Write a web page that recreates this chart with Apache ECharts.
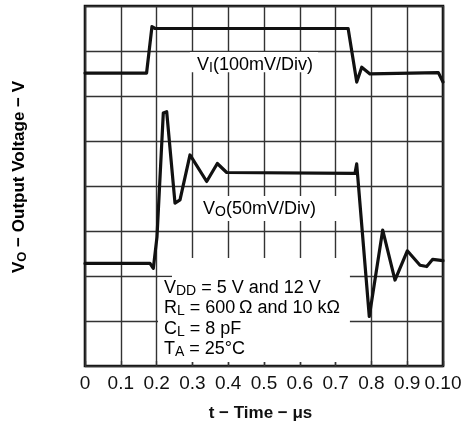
<!DOCTYPE html>
<html><head><meta charset="utf-8">
<style>html,body{margin:0;padding:0;background:#fff}#c{width:466px;height:429px}</style>
<script src="https://cdn.jsdelivr.net/npm/echarts@6/dist/echarts.min.js"></script>
</head><body><div id="c"></div>
<script>
// x tick labels as printed on the original
const tickLabels = ['0','0.1','0.2','0.3','0.4','0.5','0.6','0.7','0.8','0.9','0.10'];
// V_I trace: time (µs) and level (divisions from bottom)
const viTime  = [0, 0.172, 0.187, 0.196, 0.735, 0.759, 0.773, 0.796, 0.987, 1.0];
const viLevel = [6.51, 6.51, 7.54, 7.50, 7.50, 6.31, 6.64, 6.49, 6.52, 6.31];
// V_O trace
const voTime  = [0, 0.1816, 0.1908, 0.2011, 0.2187, 0.2282, 0.2514, 0.2654, 0.2933, 0.3399, 0.3696, 0.3958, 0.7542, 0.7589, 0.7941, 0.8316, 0.8659, 0.9003, 0.9358, 0.9545, 0.9712, 1.0];
const voLevel = [2.28, 2.28, 2.17, 2.87, 5.62, 5.65, 3.62, 3.69, 4.69, 4.10, 4.50, 4.30, 4.28, 4.49, 1.10, 3.02, 1.91, 2.56, 2.24, 2.21, 2.37, 2.34];

const FONT = '"Liberation Sans", Arial, Helvetica, sans-serif';
const pair = (xs, ys) => xs.map((x, i) => [x, ys[i]]);

const chart = echarts.init(document.getElementById('c'), null, {renderer: 'canvas'});
const subRich = {
  m: {fontSize: 18, lineHeight: 20.4, fontFamily: FONT, color: '#111'},
  s: {fontSize: 14, lineHeight: 14, verticalAlign: 'bottom', fontFamily: FONT, color: '#111'}
};
const subRichBold = {
  m: {fontSize: 17, lineHeight: 20, fontWeight: 'bold', fontFamily: FONT, color: '#111'},
  s: {fontSize: 13, lineHeight: 12, verticalAlign: 'bottom', fontWeight: 'bold', fontFamily: FONT, color: '#111'}
};
chart.setOption({
  animation: false,
  backgroundColor: '#fff',
  grid: {left: 85, right: 23, top: 6, bottom: 63, show: true, borderColor: '#111', borderWidth: 2.6, backgroundColor: 'transparent'},
  xAxis: {
    type: 'value', min: 0, max: 1, interval: 0.1,
    axisLine: {show: false},
    axisTick: {show: true, inside: true, length: 5, lineStyle: {color: '#333', width: 1.4}},
    splitLine: {show: true, lineStyle: {color: '#333', width: 1.4}},
    axisLabel: {
      fontSize: 19, color: '#111', fontFamily: FONT, margin: 8,
      formatter: v => tickLabels[Math.round(v * 10)]
    }
  },
  yAxis: {
    type: 'value', min: 0, max: 8, interval: 1,
    axisLine: {show: false}, axisTick: {show: false}, axisLabel: {show: false},
    splitLine: {show: true, lineStyle: {color: '#333', width: 1.4}}
  },
  series: [
    {
      type: 'line', z: 1, data: [], silent: true,
      markArea: {
        silent: true,
        itemStyle: {color: '#fff', borderWidth: 0},
        label: {show: false},
        data: [
          [{xAxis: 0.293, yAxis: 6.53}, {xAxis: 0.651, yAxis: 6.98}],
          [{xAxis: 0.307, yAxis: 3.22}, {xAxis: 0.732, yAxis: 3.78}],
          [{xAxis: 0.243, yAxis: 0.09}, {xAxis: 0.740, yAxis: 2.40}],
          [{xAxis: 0.204, yAxis: 0.09}, {xAxis: 0.243, yAxis: 1.97}]
        ]
      }
    },
    {
      type: 'line', z: 3, name: 'VI', showSymbol: false, symbol: 'none',
      lineStyle: {color: '#111', width: 3.2, join: 'round', cap: 'round'},
      data: pair(viTime, viLevel)
    },
    {
      type: 'line', z: 3, name: 'VO', showSymbol: false, symbol: 'none',
      lineStyle: {color: '#111', width: 3.2, join: 'round', cap: 'round'},
      data: pair(voTime, voLevel)
    }
  ],
  graphic: [
    {type: 'text', z: 10, left: 197, top: 56, style: {text: '{m|V}{s|I}{m|(100mV/Div)}', rich: subRich}},
    {type: 'text', z: 10, left: 203, top: 200, style: {text: '{m|V}{s|O}{m|(50mV/Div)}', rich: subRich}},
    {type: 'text', z: 10, left: 164, top: 279, style: {
      text: '{m|V}{s|DD}{m| = 5 V and 12 V}\n{m|R}{s|L}{m| = 600\u2009\u03A9 and 10 k\u03A9}\n{m|C}{s|L}{m| = 8 pF}\n{m|T}{s|A}{m| = 25\u00B0C}',
      rich: subRich}},
    {type: 'text', z: 10, x: 260.5, y: 413, style: {
      text: 't \u2212 Time \u2212 \u03BCs', font: 'bold 17px ' + FONT, fill: '#111', align: 'center', verticalAlign: 'middle'}},
    {type: 'text', z: 10, x: 19, y: 177, rotation: Math.PI / 2, style: {
      text: '{m|V}{s|O}{m| \u2212 Output Voltage \u2212 V}', rich: subRichBold, align: 'center', verticalAlign: 'middle'}}
  ]
});
</script>
</body></html>
